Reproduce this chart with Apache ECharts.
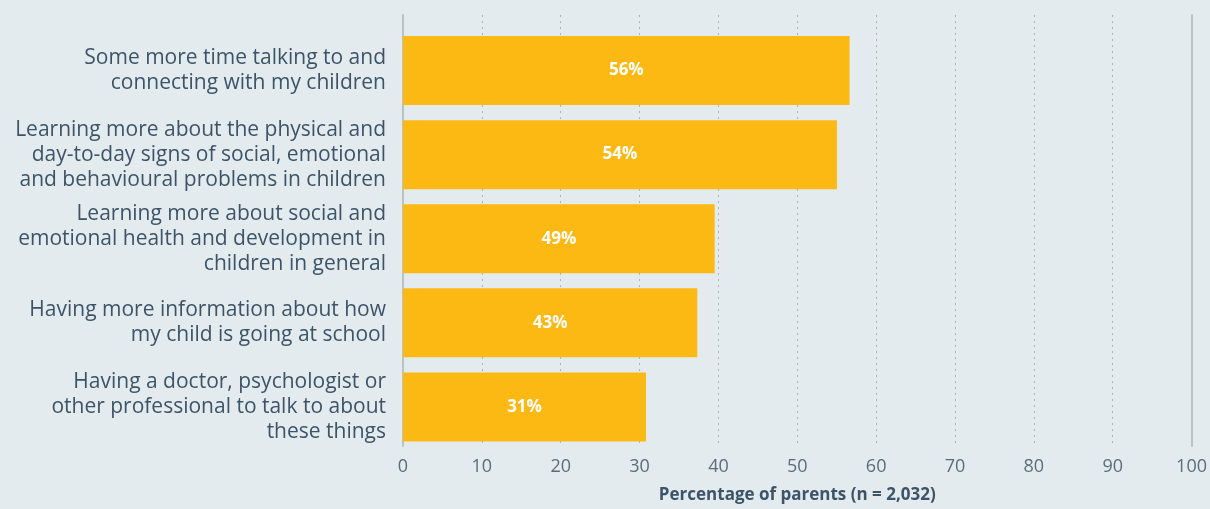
<!DOCTYPE html>
<html>
<head>
<meta charset="utf-8">
<script src="https://cdn.jsdelivr.net/npm/echarts@6/dist/echarts.min.js"></script>
<style>
  html, body { margin: 0; padding: 0; background: #e3ebee; }
  #chart { width: 1210px; height: 509px; }
</style>
</head>
<body>
<div id="chart"></div>
<script>
// categories, top to bottom
var categories = [
  'Some more time talking to and\nconnecting with my children',
  'Learning more about the physical and\nday-to-day signs of social, emotional\nand behavioural problems in children',
  'Learning more about social and\nemotional health and development in\nchildren in general',
  'Having more information about how\nmy child is going at school',
  'Having a doctor, psychologist or\nother professional to talk to about\nthese things'
];
// bar lengths as drawn in the picture
var barValues = [56.6, 55.0, 39.5, 37.3, 30.8];
// printed labels
var barLabels = ['56%', '54%', '49%', '43%', '31%'];
var xTicks = [0, 10, 20, 30, 40, 50, 60, 70, 80, 90, 100];

var textColor = '#3d5468';
var font = 'Open Sans';
var axisGrey = '#b7c2c9';
var myChart = echarts.init(document.getElementById('chart'));

var option = {
  backgroundColor: '#e3ebee',
  grid: [
    // frame: gridlines run a bit past the bars
    { left: 403, right: 18, top: 15, bottom: 52, containLabel: false },
    // bars
    { left: 403, right: 18, top: 28.5, bottom: 60, containLabel: false }
  ],
  xAxis: [{
    gridIndex: 0,
    type: 'value',
    min: xTicks[0],
    max: xTicks[xTicks.length - 1],
    interval: 10,
    name: 'Percentage of parents (n = 2,032)',
    nameLocation: 'middle',
    nameGap: 41,
    nameTextStyle: { fontFamily: font, fontSize: 17, fontWeight: 'bold', color: textColor },
    axisLine: { show: false },
    axisTick: { show: false },
    axisLabel: { fontFamily: font, fontSize: 18, color: '#5b6d7b', margin: 12 },
    splitLine: { lineStyle: { color: '#a9b4bb', type: [2, 4], width: 1 } }
  }, {
    gridIndex: 1,
    type: 'value',
    min: xTicks[0],
    max: xTicks[xTicks.length - 1],
    show: false
  }],
  yAxis: [{
    gridIndex: 0,
    type: 'value',
    min: 0,
    max: 1,
    axisLine: { show: true, lineStyle: { color: axisGrey, width: 2 } },
    axisTick: { show: false },
    axisLabel: { show: false },
    splitLine: { show: false }
  }, {
    gridIndex: 0,
    type: 'value',
    min: 0,
    max: 1,
    position: 'right',
    axisLine: { show: true, lineStyle: { color: axisGrey, width: 2 } },
    axisTick: { show: false },
    axisLabel: { show: false },
    splitLine: { show: false }
  }, {
    gridIndex: 1,
    type: 'category',
    data: categories,
    inverse: true,
    axisLine: { show: false },
    axisTick: { show: false },
    axisLabel: {
      fontFamily: font, fontSize: 21, lineHeight: 25, color: textColor, margin: 17, align: 'right'
    }
  }],
  series: [{
    type: 'bar',
    xAxisIndex: 1,
    yAxisIndex: 2,
    data: barValues,
    barWidth: '82%',
    itemStyle: { color: '#fdb913' },
    label: {
      show: true,
      position: 'inside',
      color: '#ffffff',
      fontFamily: font,
      fontWeight: 'bold',
      fontSize: 17,
      formatter: function (p) { return barLabels[p.dataIndex]; }
    }
  }]
};

myChart.setOption(option);
</script>
</body>
</html>
